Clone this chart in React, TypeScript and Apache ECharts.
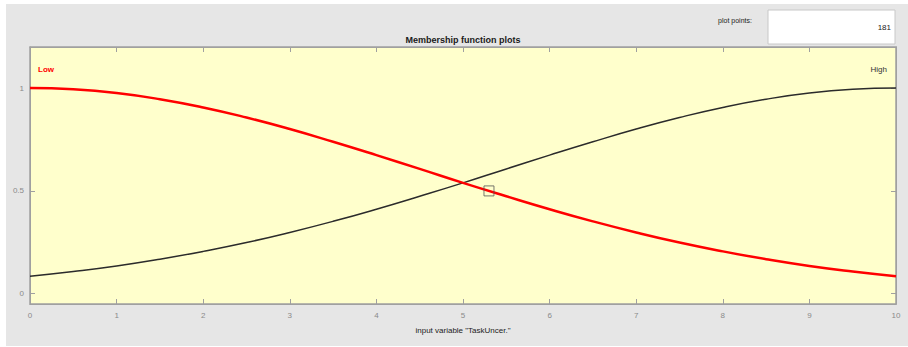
import React, { useEffect, useRef } from "react";
import * as echarts from "echarts";

const xValues = [0, 0.5, 1, 1.5, 2, 2.5, 3, 3.5, 4, 4.5, 5, 5.5, 6, 6.5, 7, 7.5, 8, 8.5, 9, 9.5, 10];
const lowValues = [1, 0.994, 0.976, 0.946, 0.906, 0.857, 0.801, 0.739, 0.674, 0.607, 0.539, 0.474, 0.411, 0.352, 0.298, 0.249, 0.206, 0.168, 0.135, 0.108, 0.085];
const highValues = [0.085, 0.108, 0.135, 0.168, 0.206, 0.249, 0.298, 0.352, 0.411, 0.474, 0.539, 0.607, 0.674, 0.739, 0.801, 0.857, 0.906, 0.946, 0.976, 0.994, 1];
const markerPoint = [5.3, 0.5];
const yTickValues = [0, 0.5, 1];
const mfNames = ["Low", "High"];
const titleText = "Membership function plots";
const xAxisName = 'input variable "TaskUncer."';
const plotPointsLabel = "plot points:";
const plotPointsValue = "181";

const FONT = "'Liberation Sans Narrow', 'Liberation Sans', Arial, sans-serif";

export default function App() {
  const ref = useRef<HTMLDivElement>(null);
  useEffect(() => {
    if (!ref.current) return;
    const chart = echarts.init(ref.current, undefined, { renderer: "svg" });
    const axisLineStyle = { color: "#a0a0a0", width: 1 };
    chart.setOption({
      animation: false,
      backgroundColor: "#ffffff",
      title: {
        text: titleText,
        left: 463,
        top: 35,
        padding: 0,
        textAlign: "center",
        textStyle: { fontFamily: FONT, fontSize: 9, fontWeight: "bold", color: "#1a1a1a" },
      },
      grid: {
        left: 30,
        top: 47,
        width: 866,
        height: 257,
        show: true,
        backgroundColor: "#ffffcc",
        borderColor: "#a0a0a0",
        borderWidth: 1.5,
      },
      xAxis: [
        {
          type: "value",
          min: 0,
          max: 10,
          interval: 1,
          position: "bottom",
          z: 3,
          name: xAxisName,
          nameLocation: "middle",
          nameGap: 22,
          nameTextStyle: { fontFamily: FONT, fontSize: 8, color: "#222" },
          axisLine: { show: true, onZero: false, lineStyle: axisLineStyle },
          axisTick: { show: true, inside: true, length: 5, lineStyle: axisLineStyle },
          axisLabel: { fontFamily: FONT, fontSize: 8, color: "#8a8a8a", margin: 7 },
          splitLine: { show: false },
        },
        {
          type: "value",
          min: 0,
          max: 10,
          interval: 1,
          position: "top",
          z: 3,
          axisLine: { show: true, onZero: false, lineStyle: axisLineStyle },
          axisTick: { show: true, inside: true, length: 5, lineStyle: axisLineStyle },
          axisLabel: { show: false },
          splitLine: { show: false },
        },
      ],
      yAxis: [
        {
          type: "value",
          min: -0.05,
          max: 1.2,
          position: "left",
          z: 3,
          axisLine: { show: true, onZero: false, lineStyle: axisLineStyle },
          axisTick: { show: true, inside: false, length: -5, customValues: yTickValues, lineStyle: axisLineStyle },
          axisLabel: {
            fontFamily: FONT,
            fontSize: 8,
            color: "#8a8a8a",
            margin: 6,
            customValues: yTickValues,
          },
          splitLine: { show: false },
        },
        {
          type: "value",
          min: -0.05,
          max: 1.2,
          position: "right",
          z: 3,
          axisLine: { show: true, onZero: false, lineStyle: axisLineStyle },
          axisTick: { show: true, inside: false, length: -5, customValues: yTickValues, lineStyle: axisLineStyle },
          axisLabel: { show: false },
          splitLine: { show: false },
        },
      ],
      graphic: [
        {
          type: "rect",
          z: -10,
          silent: true,
          shape: { x: 6, y: 4, width: 902, height: 342 },
          style: { fill: "#e6e6e6" },
        },
        {
          type: "rect",
          z: 10,
          shape: { x: 768, y: 10, width: 127, height: 34 },
          style: { fill: "#ffffff", stroke: "#c8c8c8", lineWidth: 1 },
        },
        {
          type: "text",
          z: 11,
          x: 891,
          y: 27,
          style: {
            text: plotPointsValue,
            fontFamily: FONT,
            fontSize: 8,
            fill: "#222",
            align: "right",
            verticalAlign: "middle",
          },
        },
        {
          type: "text",
          z: 11,
          x: 735,
          y: 20,
          style: {
            text: plotPointsLabel,
            fontFamily: FONT,
            fontSize: 7,
            fill: "#222",
            align: "center",
            verticalAlign: "middle",
          },
        },
        {
          type: "text",
          z: 11,
          x: 38,
          y: 69,
          style: {
            text: mfNames[0],
            fontFamily: FONT,
            fontSize: 8,
            fontWeight: "bold",
            fill: "#ff0000",
            align: "left",
            verticalAlign: "middle",
          },
        },
        {
          type: "text",
          z: 11,
          x: 887,
          y: 69,
          style: {
            text: mfNames[1],
            fontFamily: FONT,
            fontSize: 8,
            fill: "#333",
            align: "right",
            verticalAlign: "middle",
          },
        },
      ],
      series: [
        {
          type: "line",
          name: mfNames[1],
          data: xValues.map((x, i) => [x, highValues[i]]),
          smooth: true,
          showSymbol: false,
          lineStyle: { color: "#2b2b2b", width: 1.5 },
          z: 3,
        },
        {
          type: "line",
          name: mfNames[0],
          data: xValues.map((x, i) => [x, lowValues[i]]),
          smooth: true,
          showSymbol: false,
          lineStyle: { color: "#ff0000", width: 2.5 },
          z: 4,
        },
        {
          type: "scatter",
          data: [markerPoint],
          symbol: "rect",
          symbolSize: 10,
          itemStyle: { color: "rgba(0,0,0,0)", borderColor: "#555", borderWidth: 1 },
          z: 5,
        },
      ],
    });
    return () => chart.dispose();
  }, []);
  return (
    <div
      ref={ref}
      style={{ position: "fixed", left: 0, top: 0, width: 908, height: 347 }}
    />
  );
}
